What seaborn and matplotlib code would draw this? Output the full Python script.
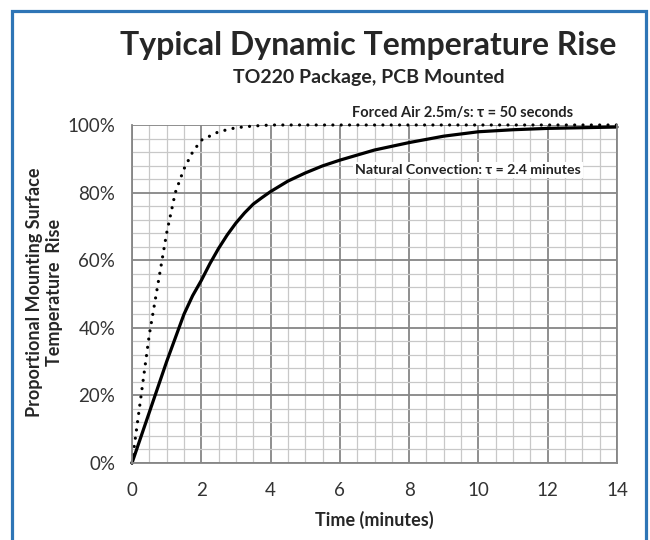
import pandas as pd
import matplotlib.pyplot as plt
import matplotlib.ticker as mticker
from matplotlib.patches import Rectangle
import seaborn as sns

# data (time in minutes, rise in %)
t_natural = [0, 0.5, 1, 1.5, 1.75, 2, 2.25, 2.5, 2.75, 3, 3.25, 3.5, 3.75, 4, 4.5, 5,
             5.5, 6, 7, 8, 9, 10, 11, 12, 13, 14]
rise_natural = [0, 15, 30, 44, 49.5, 54, 59, 63.5, 67.5, 71, 74, 76.6, 78.5, 80.3, 83.4,
                85.8, 87.9, 89.6, 92.6, 94.8, 96.7, 98.0, 98.6, 99.0, 99.2, 99.4]
t_forced = [0, 0.5, 1, 1.25, 1.5, 1.75, 2, 2.5, 3, 3.5, 4, 6, 8, 10, 12, 14]
rise_forced = [0, 38, 68, 80, 87, 92, 95.5, 98, 99.2, 99.7, 100, 100, 100, 100, 100, 100]

x_ticks = [0, 2, 4, 6, 8, 10, 12, 14]
y_ticks = [0, 20, 40, 60, 80, 100]

df_nat = pd.DataFrame({'time': t_natural, 'rise': rise_natural})
df_forced = pd.DataFrame({'time': t_forced, 'rise': rise_forced})

sns.set_style('white')
plt.rcParams['font.family'] = ['Lato', 'DejaVu Sans']

fig = plt.figure(figsize=(6.5, 5.4), dpi=100)
ax = fig.add_axes([132 / 650, 1 - 463 / 540, (617 - 132) / 650, (463 - 125) / 540])

# grid
ax.set_xlim(0, 14)
ax.set_ylim(0, 100)
ax.set_xticks(x_ticks)
ax.set_yticks(y_ticks)
ax.xaxis.set_minor_locator(mticker.MultipleLocator(0.5))
ax.yaxis.set_minor_locator(mticker.MultipleLocator(4))
ax.grid(which='minor', color='#c8c8c8', linewidth=0.9)
ax.grid(which='major', color='#868686', linewidth=1.3)
ax.set_axisbelow(True)

sns.lineplot(data=df_nat, x='time', y='rise', ax=ax, color='black', linewidth=2.3,
             clip_on=False)
sns.lineplot(data=df_forced, x='time', y='rise', ax=ax, color='black', linewidth=2.3,
             linestyle=(0, (0.01, 2.6)), dash_capstyle='round', clip_on=False)

ax.spines['top'].set_visible(False)
for s in ['left', 'bottom', 'right']:
    ax.spines[s].set_color('#868686')
    ax.spines[s].set_linewidth(1.3)

ax.yaxis.set_major_formatter(mticker.FuncFormatter(lambda v, p: f'{v:.0f}%'))
ax.tick_params(axis='both', which='major', direction='out', width=1.3,
               color='#868686', labelsize=13.5, labelcolor='#333333')
ax.tick_params(axis='y', length=9, pad=3)
ax.tick_params(axis='x', length=5, pad=9)
ax.tick_params(axis='both', which='minor', length=0)

ax.set_xlabel('Time (minutes)', fontsize=13, fontweight='bold', labelpad=8)
ax.set_ylabel('Proportional Mounting Surface\nTemperature  Rise', fontsize=13,
              fontweight='bold', linespacing=1.2)
ax.yaxis.set_label_coords(-0.143, 0.505, transform=ax.transAxes)

ax.text(9.55, 101.5, 'Forced Air 2.5m/s: τ = 50 seconds', fontsize=10.5, fontweight='bold',
        ha='center', va='bottom', color='#222222')
ax.text(9.7, 86.6, 'Natural Convection: τ = 2.4 minutes', fontsize=10.2, fontweight='bold',
        ha='center', va='center', color='#222222',
        bbox=dict(facecolor='white', edgecolor='none', pad=1.5))

fig.text(368 / 650, 1 - 46 / 540, 'Typical Dynamic Temperature Rise', fontsize=23,
         fontweight='bold', ha='center', va='center')
fig.text(369 / 650, 1 - 77 / 540, 'TO220 Package, PCB Mounted', fontsize=14,
         fontweight='bold', ha='center', va='center')

# blue frame around the chart
fig.patches.append(Rectangle((12 / 650, -0.05), (646 - 12) / 650, 1.05 - 11 / 540,
                             transform=fig.transFigure, fill=False,
                             edgecolor='#2e75b6', linewidth=2.3))

fig.savefig('out.png', dpi=100)
plt.close()
